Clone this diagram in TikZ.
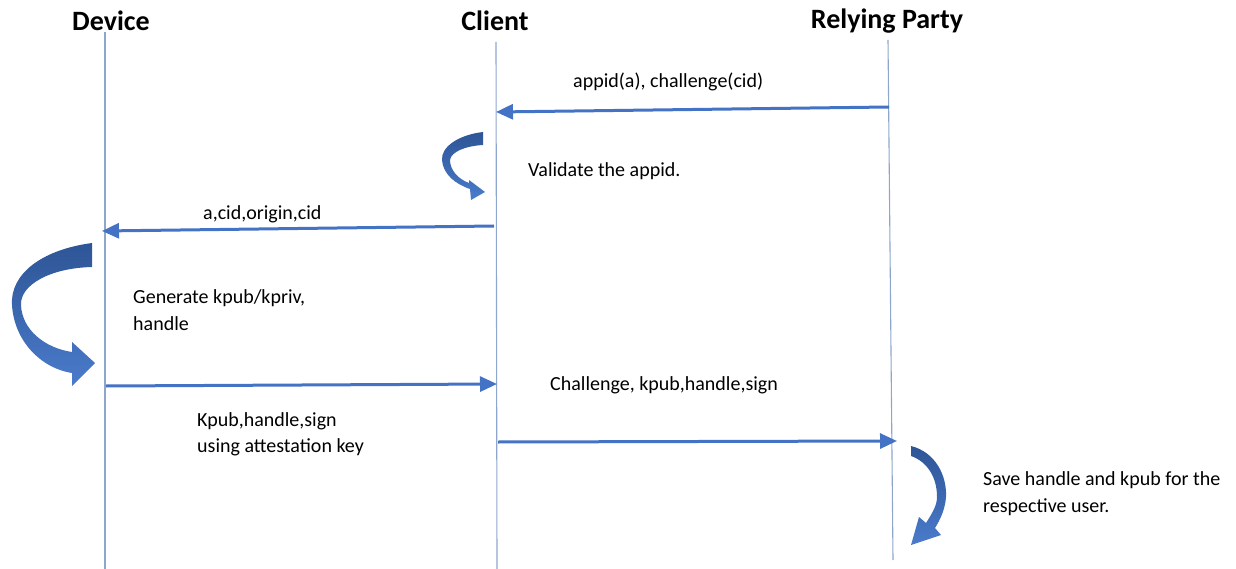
\documentclass[tikz,border=0pt]{standalone}
\usepackage{fontspec}
\setmainfont{Carlito}
\usetikzlibrary{arrows.meta}

\definecolor{msgblue}{HTML}{4472C4}
\definecolor{curldark}{HTML}{2E5596}
\definecolor{curllight}{HTML}{4A7BCB}
\definecolor{lifegray}{HTML}{8FA6CC}

\tikzset{
  actor/.style={font=\fontsize{28}{30}\selectfont\bfseries, inner sep=0pt},
  lifeline/.style={draw=lifegray, line width=1.1pt},
  msg/.style={draw=msgblue, line width=3pt,
    -{Triangle[length=17pt,width=15pt]}},
  note/.style={font=\fontsize{20}{26}\selectfont, inner sep=0pt, anchor=base west},
  curl/.style={top color=curldark, bottom color=curllight, draw=none},
}

\begin{document}
\begin{tikzpicture}[x=1pt, y=-1pt]
  \useasboundingbox (0,0) rectangle (1236,569);

  % participants
  \node[actor] (dev) at (111,21) {Device};
  \node[actor] (cli) at (495,21) {Client};
  \node[actor] (rp)  at (887,21) {Relying Party};

  % lifelines
  \coordinate (devEnd) at (105,569);
  \coordinate (cliEnd) at (497,569);
  \coordinate (rpEnd)  at (893,560);
  \draw[lifeline] (105,32) -- (devEnd);
  \draw[lifeline] (496,42) -- (cliEnd);
  \draw[lifeline] (888,40) -- (rpEnd);

  % message end points on the lifelines
  \coordinate (m1s) at (889,107);
  \coordinate (m1e) at (496,112);
  \coordinate (m2s) at (494,226);
  \coordinate (m2e) at (102,231);
  \coordinate (m3s) at (106,386);
  \coordinate (m3e) at (497,384);
  \coordinate (m4s) at (498,442);
  \coordinate (m4e) at (897,441);

  % messages
  \draw[msg] (m1s) -- (m1e);
  \draw[msg] (m2s) -- (m2e);
  \draw[msg] (m3s) -- (m3e);
  \draw[msg] (m4s) -- (m4e);

  % labels
  \node[note] (l1) at (573,88)  {appid(a), challenge(cid)};
  \node[note] (l2) at (528,177) {Validate the appid.};
  \node[note] (l3) at (203,220) {a,cid,origin,cid};
  \node[note] (l4) at (133,303) {Generate kpub/kpriv,};
  \node[note] (l5) at (133,330) {handle};
  \node[note] (l6) at (550,390) {Challenge, kpub,handle,sign};
  \node[note] (l7) at (197,426) {Kpub,handle,sign};
  \node[note] (l8) at (197,452) {using attestation key};
  \node[note] (l9) at (983,485) {Save handle and kpub for the};
  \node[note] (l10) at (983,512) {respective user.};

  % self-action curls
  % client: validate appid
  \path[curl] (483,132) .. controls (458,135) and (441,147) .. (442,160)
    .. controls (443,174) and (455,184) .. (470,189)
    -- (471,200) -- (485,192) -- (469,180) -- (469,183)
    .. controls (458,179) and (450,170) .. (450,160)
    .. controls (451,152) and (465,146) .. (483,145) -- cycle;

  % device: generate keys
  \path[curl] (92,243) .. controls (40,250) and (10,275) .. (12,305)
    .. controls (14,340) and (40,368) .. (72,373)
    -- (72,386) -- (95,363) -- (72,342) -- (72,352)
    .. controls (45,348) and (22,330) .. (21,305)
    .. controls (20,285) and (50,268) .. (92,267) -- cycle;

  % relying party: store handle and key
  \path[curl] (911,446) .. controls (935,452) and (947,475) .. (946,497)
    .. controls (945,510) and (940,520) .. (935,528)
    -- (941,535) -- (911,545) -- (919,517) -- (926,523)
    .. controls (933,512) and (937,505) .. (937,497)
    .. controls (937,478) and (928,462) .. (911,456) -- cycle;
\end{tikzpicture}
\end{document}
